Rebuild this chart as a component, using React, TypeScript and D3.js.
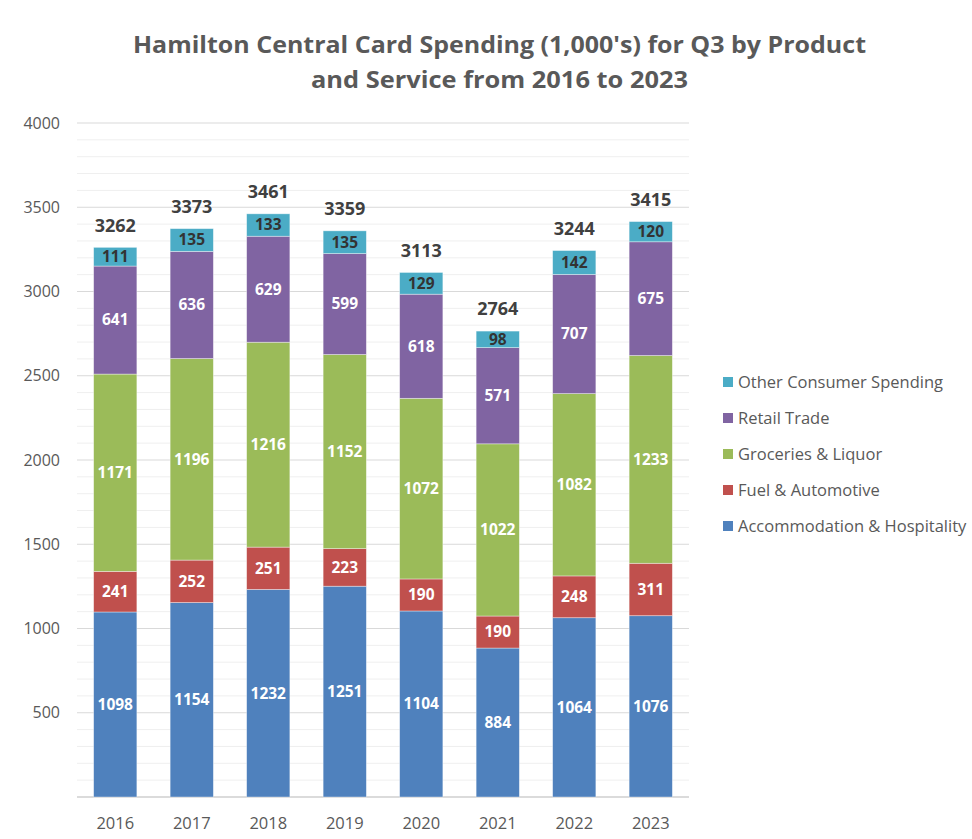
import React from "react";
import * as d3 from "d3";

const years = ["2016", "2017", "2018", "2019", "2020", "2021", "2022", "2023"];
const seriesNames = [
  "Accommodation & Hospitality",
  "Fuel & Automotive",
  "Groceries & Liquor",
  "Retail Trade",
  "Other Consumer Spending",
];
const accommodation = [1098, 1154, 1232, 1251, 1104, 884, 1064, 1076];
const fuel = [241, 252, 251, 223, 190, 190, 248, 311];
const groceries = [1171, 1196, 1216, 1152, 1072, 1022, 1082, 1233];
const retail = [641, 636, 629, 599, 618, 571, 707, 675];
const other = [111, 135, 133, 135, 129, 98, 142, 120];
const totals = [3262, 3373, 3461, 3359, 3113, 2764, 3244, 3415];
const yTicks = [500, 1000, 1500, 2000, 2500, 3000, 3500, 4000];
const colors = ["#4F81BD", "#C0504D", "#9BBB59", "#8064A2", "#4BACC6"];
const labelColors = ["#ffffff", "#ffffff", "#ffffff", "#ffffff", "#333333"];

const W = 972;
const H = 839;
const FONT = "'Open Sans', sans-serif";

export default function App() {
  const left = 77;
  const right = 689;
  const top = 123;
  const bottom = 797;
  const x = d3.scaleBand<string>().domain(years).range([left, right]).paddingInner(0.435).paddingOuter(0.2175);
  const y = d3.scaleLinear().domain([0, 4000]).range([bottom, top]);
  const data = years.map((yr, i) => ({
    year: yr,
    vals: [accommodation[i], fuel[i], groceries[i], retail[i], other[i]],
  }));
  const stack = d3.stack<any>().keys([0, 1, 2, 3, 4] as any).value((d: any, k: any) => d.vals[k]);
  const series = stack(data);
  const minor = d3.range(100, 4001, 100);

  return (
    <svg width={W} height={H} style={{ position: "absolute", left: 0, top: 0, background: "#fff" }}>
      <rect width={W} height={H} fill="#fff" />
      <text x={499.5} y={45} dy="0.35em" textAnchor="middle" fontFamily={FONT} fontWeight="bold" fontSize={23} fill="#595959" textLength={733} lengthAdjust="spacingAndGlyphs">
        Hamilton Central Card Spending (1,000's) for Q3 by Product
      </text>
      <text x={499.5} y={80} dy="0.35em" textAnchor="middle" fontFamily={FONT} fontWeight="bold" fontSize={23} fill="#595959" textLength={377} lengthAdjust="spacingAndGlyphs">
        and Service from 2016 to 2023
      </text>
      {minor.map((t) => (
        <line key={t} x1={left} x2={right} y1={y(t)} y2={y(t)} stroke={t % 500 === 0 ? "#d9d9d9" : "#efefef"} strokeWidth={1} />
      ))}
      <line x1={left} x2={right} y1={y(0)} y2={y(0)} stroke="#cfcfcf" strokeWidth={1.5} />
      {yTicks.map((t) => (
        <text key={t} x={60} y={y(t)} dy="0.35em" textAnchor="end" fontFamily={FONT} fontSize={16} fill="#595959">
          {t}
        </text>
      ))}
      {series.map((s, si) => (
        <g key={si}>
          {s.map((d, i) => {
            const x0 = x(years[i])!;
            const y0 = y(d[1]);
            const h = y(d[0]) - y(d[1]);
            return (
              <g key={i}>
                <rect x={x0} y={y0} width={x.bandwidth()} height={h} fill={colors[si]} stroke="#ffffff" strokeOpacity={0.5} strokeWidth={0.75} />
                <text
                  x={x0 + x.bandwidth() / 2}
                  y={y0 + h / 2}
                  dy="0.35em"
                  textAnchor="middle"
                  fontFamily={FONT}
                  fontWeight="bold"
                  fontSize={15.5}
                  fill={labelColors[si]}
                >
                  {data[i].vals[si]}
                </text>
              </g>
            );
          })}
        </g>
      ))}
      {years.map((yr, i) => (
        <text
          key={yr}
          x={x(yr)! + x.bandwidth() / 2}
          y={y(d3.sum(data[i].vals)) - 22}
          dy="0.35em"
          textAnchor="middle"
          fontFamily={FONT}
          fontWeight="bold"
          fontSize={18}
          fill="#404040"
        >
          {totals[i]}
        </text>
      ))}
      {years.map((yr) => (
        <text key={yr} x={x(yr)! + x.bandwidth() / 2} y={823} dy="0.35em" textAnchor="middle" fontFamily={FONT} fontSize={16.5} fill="#595959">
          {yr}
        </text>
      ))}
      {seriesNames
        .slice()
        .reverse()
        .map((name, i) => {
          const ci = seriesNames.length - 1 - i;
          const ly = 382 + i * 36;
          return (
            <g key={name}>
              <rect x={723} y={ly - 5} width={10} height={10} fill={colors[ci]} />
              <text x={738} y={ly} dy="0.35em" fontFamily={FONT} fontSize={16.5} fill="#595959">
                {name}
              </text>
            </g>
          );
        })}
    </svg>
  );
}
